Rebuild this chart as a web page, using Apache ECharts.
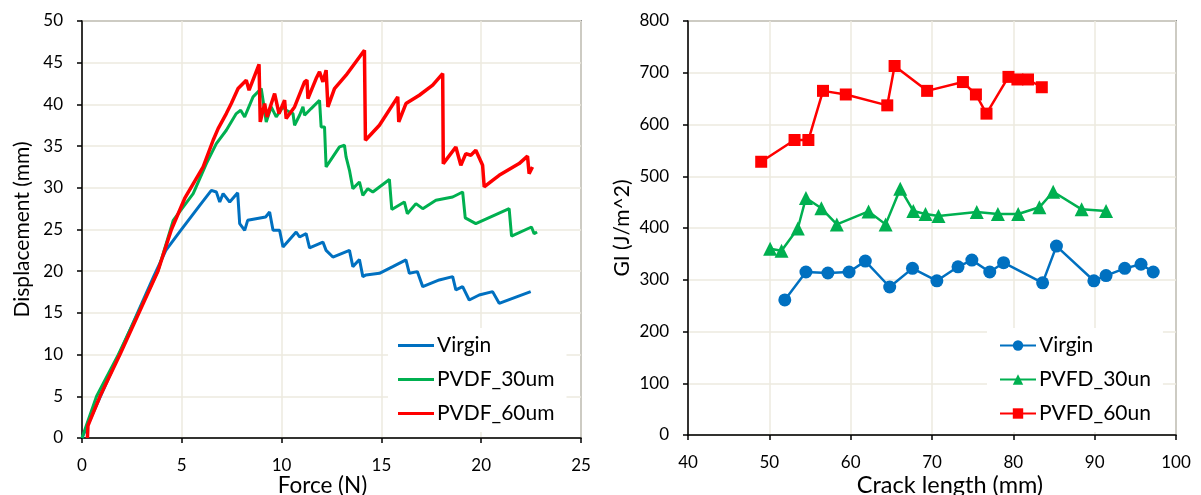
<!DOCTYPE html>
<html>
<head>
<meta charset="utf-8">
<script src="https://cdn.jsdelivr.net/npm/echarts@6/dist/echarts.min.js"></script>
<style>
  html, body { margin: 0; padding: 0; background: #fff; }
  #chart { width: 1201px; height: 495px; }
</style>
</head>
<body>
<div id="chart"></div>
<script>
// Load–displacement curves: [force (N), displacement (mm)]
const virginCurve = [
  [0,0],[3.6,19.4],[4.2,22.5],[4.9,24.75],[5.9,27.9],[6.48,29.7],[6.73,29.5],[6.9,28.3],
  [7.07,29.3],[7.4,28.3],[7.8,29.4],[7.9,25.7],[8.15,24.9],[8.3,26.1],[9.2,26.5],[9.4,27.1],
  [9.57,24.9],[9.9,24.9],[10.07,22.9],[10.73,24.7],[10.9,24.1],[11.23,24.5],[11.4,22.8],
  [12.07,23.5],[12.23,22.5],[12.57,21.7],[13.4,22.5],[13.57,20.55],[13.9,21.4],[14.07,19.35],
  [14.23,19.55],[14.9,19.75],[15.57,20.55],[16.23,21.35],[16.4,19.75],[16.8,19.95],[17.07,18.15],
  [17.9,18.95],[18.57,19.35],[18.73,17.75],[19.07,18.15],[19.4,16.55],[19.9,17.15],[20.57,17.55],
  [20.9,16.15],[21.57,16.75],[22.48,17.55]
];
const pvdf30Curve = [
  [0,0],[0.73,5],[1.82,10],[3.8,20],[4.57,26.1],[5.57,29.3],[6.23,32.9],[6.73,35.3],[7.23,36.9],
  [7.73,38.9],[7.95,39.3],[8.15,38.5],[8.57,40.9],[8.98,41.9],[9.07,40.5],[9.23,37.9],[9.48,39.7],
  [9.73,38.5],[10.07,39.7],[10.23,39.3],[10.57,38.9],[10.65,37.5],[10.9,38.7],[11.07,39.7],
  [11.15,38.7],[11.48,39.5],[11.9,40.5],[11.98,37.3],[12.15,37.3],[12.23,32.5],[12.9,34.9],
  [13.15,35.1],[13.23,33.7],[13.4,32.1],[13.57,29.9],[13.9,30.7],[14.07,29.1],[14.32,29.9],
  [14.57,29.5],[15.4,31.0],[15.52,27.4],[16.15,28.3],[16.3,26.9],[16.73,28.1],[17.07,27.5],
  [17.73,28.5],[18.57,28.9],[19.07,29.5],[19.2,26.4],[19.5,26.0],[19.73,25.7],[21.4,27.5],
  [21.52,24.2],[22.52,25.3],[22.65,24.5],[22.8,24.7]
];
const pvdf60Curve = [
  [0.27,0],[0.3,1.5],[0.9,5],[1.9,10],[3.8,20],[4.48,25],[5.15,28.75],[6.07,32.5],[6.57,35.7],
  [6.82,37.1],[7.23,38.9],[7.48,40.1],[7.82,41.9],[8.23,42.9],[8.37,41.7],[8.87,44.8],[8.93,37.9],
  [9.15,40.1],[9.27,38.5],[9.65,41.3],[9.87,38.9],[10.15,40.5],[10.23,38.3],[10.65,39.7],[11.15,42.7],
  [11.27,42.9],[11.32,40.7],[11.73,43.1],[11.9,43.9],[12.07,42.7],[12.23,44.1],[12.32,39.7],
  [12.65,41.9],[13.23,43.5],[14.15,46.5],[14.2,35.7],[14.9,37.5],[15.82,40.9],[15.87,37.9],
  [16.23,40.1],[16.9,41.1],[17.57,42.3],[18.07,43.7],[18.1,32.9],[18.73,34.9],[18.98,32.7],
  [19.23,34.1],[19.48,33.9],[19.73,34.5],[20.07,32.7],[20.15,30.1],[20.57,30.9],[20.9,31.5],
  [21.9,32.9],[22.32,33.8],[22.4,31.7],[22.57,32.5]
];

// Fracture toughness: [crack length (mm), GI (J/m^2)]
const virginGI = [
  [51.9,261],[54.5,315],[57.2,313],[59.8,315],[61.8,336],[64.8,286],[67.6,322],[70.6,298],
  [73.2,325],[74.9,338],[77.1,315],[78.8,333],[83.6,294],[85.3,365],[89.9,298],[91.4,308],
  [93.7,322],[95.7,330],[97.2,315]
];
const pvfd30GI = [
  [50.1,360],[51.5,356],[53.5,399],[54.5,458],[56.4,438],[58.3,407],[62.2,432],[64.3,407],
  [66.1,476],[67.7,433],[69.2,427],[70.8,423],[75.5,431],[78.1,427],[80.6,427],[83.2,440],
  [84.9,470],[88.4,436],[91.4,433]
];
const pvfd60GI = [
  [49.0,528],[53.1,570],[54.8,570],[56.6,665],[59.4,658],[64.5,637],[65.4,713],[69.4,665],
  [73.8,682],[75.4,658],[76.7,621],[79.4,692],[80.5,687],[81.8,687],[83.5,672]
];

const leftLegendNames = ['Virgin', 'PVDF_30um', 'PVDF_60um'];
const rightLegendNames = ['Virgin', 'PVFD_30un', 'PVFD_60un'];

const BLUE = '#0070C0', GREEN = '#00B050', RED = '#FF0000';
const FONT = 'Lato';
const GRID_LINE = '#ECEADF';

function valueAxis(opts) {
  return Object.assign({
    type: 'value',
    nameLocation: 'middle',
    nameMoveOverlap: false,
    nameTextStyle: { fontFamily: FONT, fontSize: 21, color: '#000' },
    axisLine: { show: true, onZero: false, lineStyle: { color: '#000', width: 1.5 } },
    axisTick: { show: true, inside: false, length: 5, lineStyle: { color: '#000', width: 1.5 } },
    axisLabel: { fontFamily: FONT, fontSize: 17, color: '#000', margin: 19 },
    splitLine: { show: true, lineStyle: { color: GRID_LINE, width: 1.5 } }
  }, opts);
}

const chart = echarts.init(document.getElementById('chart'), null, { renderer: 'canvas' });

chart.setOption({
  animation: false,
  backgroundColor: '#fff',
  grid: [
    { left: 82, top: 21, width: 499, height: 417, outerBoundsMode: 'none', containLabel: false,
      show: true, borderColor: '#404040', borderWidth: 1.5, backgroundColor: 'transparent' },
    { left: 688, top: 21, width: 488, height: 414, outerBoundsMode: 'none', containLabel: false,
      show: true, borderColor: '#404040', borderWidth: 1.5, backgroundColor: 'transparent' }
  ],
  xAxis: [
    valueAxis({ gridIndex: 0, min: 0, max: 25, interval: 5, name: 'Force (N)', nameGap: 36,
      nameTextStyle: { fontFamily: FONT, fontSize: 22.5, color: '#000', padding: [0, 18, 0, 0] } }),
    valueAxis({ gridIndex: 1, min: 40, max: 100, interval: 10, name: 'Crack length (mm)', nameGap: 38,
      nameTextStyle: { fontFamily: FONT, fontSize: 23.5, color: '#000', padding: [0, 0, 0, 36] } })
  ],
  yAxis: [
    valueAxis({ gridIndex: 0, min: 0, max: 50, interval: 5, name: 'Displacement (mm)', nameGap: 49 }),
    valueAxis({ gridIndex: 1, min: 0, max: 800, interval: 100, name: 'GI (J/m^2)', nameGap: 55 })
  ],
  legend: [
    {
      data: leftLegendNames,
      orient: 'vertical',
      left: 388, top: 328,
      padding: [7, 12, 8, 10],
      backgroundColor: '#fff',
      icon: 'rect',
      itemWidth: 36, itemHeight: 3, itemGap: 13,
      textStyle: { fontFamily: FONT, fontSize: 21, color: '#000', padding: [0, 0, 0, -2], height: 20, lineHeight: 20 },
      selectedMode: false
    },
    {
      data: rightLegendNames.map(n => n === 'Virgin' ? 'Virgin ' : n),
      formatter: n => n.trim(),
      orient: 'vertical',
      left: 987, top: 328,
      padding: [7, 12, 8, 12],
      backgroundColor: '#fff',
      itemWidth: 36, itemHeight: 13, itemGap: 13,
      textStyle: { fontFamily: FONT, fontSize: 21, color: '#000', padding: [0, 0, 0, -2] },
      selectedMode: false
    }
  ],
  series: [
    { name: leftLegendNames[0], type: 'line', xAxisIndex: 0, yAxisIndex: 0, data: virginCurve,
      symbol: 'none', lineStyle: { color: BLUE, width: 3 }, itemStyle: { color: BLUE }, z: 3 },
    { name: leftLegendNames[1], type: 'line', xAxisIndex: 0, yAxisIndex: 0, data: pvdf30Curve,
      symbol: 'none', lineStyle: { color: GREEN, width: 3 }, itemStyle: { color: GREEN }, z: 4 },
    { name: leftLegendNames[2], type: 'line', xAxisIndex: 0, yAxisIndex: 0, data: pvdf60Curve,
      symbol: 'none', lineStyle: { color: RED, width: 3.5 }, itemStyle: { color: RED }, z: 5 },

    { name: 'Virgin ', type: 'line', xAxisIndex: 1, yAxisIndex: 1, data: virginGI,
      symbol: 'circle', symbolSize: 13, lineStyle: { color: BLUE, width: 2.5 }, itemStyle: { color: BLUE }, z: 3 },
    { name: rightLegendNames[1], type: 'line', xAxisIndex: 1, yAxisIndex: 1, data: pvfd30GI,
      symbol: 'triangle', symbolSize: 14, lineStyle: { color: GREEN, width: 2.5 }, itemStyle: { color: GREEN }, z: 4 },
    { name: rightLegendNames[2], type: 'line', xAxisIndex: 1, yAxisIndex: 1, data: pvfd60GI,
      symbol: 'rect', symbolSize: 12, lineStyle: { color: RED, width: 2.5 }, itemStyle: { color: RED }, z: 5 }
  ]
});
</script>
</body>
</html>
